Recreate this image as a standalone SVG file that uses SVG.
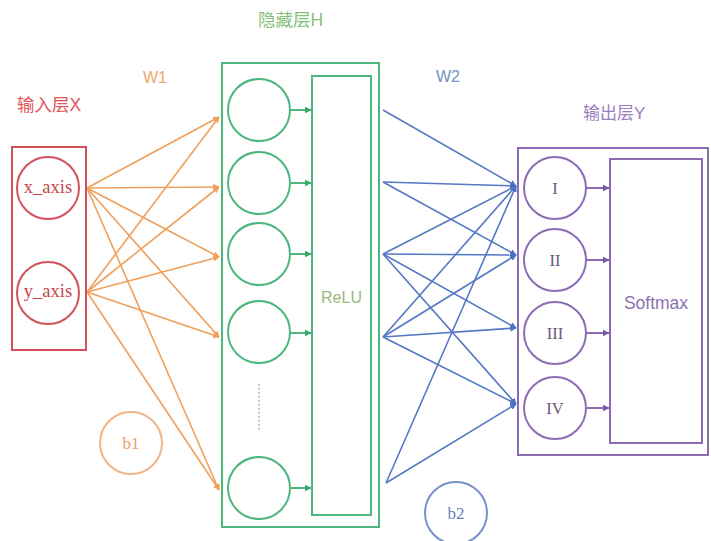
<svg xmlns="http://www.w3.org/2000/svg" width="711" height="541" viewBox="0 0 711 541">
  <style>
    .sans { font-family: "Liberation Sans", "Noto Sans CJK SC", sans-serif; }
    .serif { font-family: "Liberation Serif", "Noto Sans CJK SC", serif; }
    .red { fill: none; stroke: #d4505a; stroke-width: 2; }
    .green { fill: none; stroke: #4cb67c; stroke-width: 2; }
    .purple { fill: none; stroke: #8b6bb3; stroke-width: 2; }
    .w1 { stroke: #f0a05a; stroke-width: 1.6; fill: none; marker-end: url(#arrOrange); }
    .w2 { stroke: #5577c4; stroke-width: 1.6; fill: none; marker-end: url(#arrBlue); }
    .relu { stroke: #4cb67c; stroke-width: 2; fill: none; marker-end: url(#arrGreen); }
    .soft { stroke: #8b6bb3; stroke-width: 2; fill: none; marker-end: url(#arrPurple); }
  </style>
  <defs>
    <marker id="arrOrange" viewBox="0 0 10 10" refX="9" refY="5" markerWidth="4" markerHeight="4" orient="auto" markerUnits="strokeWidth">
      <path d="M0,0 L10,5 L0,10 z" fill="#f0a05a"/>
    </marker>
    <marker id="arrBlue" viewBox="0 0 10 10" refX="9" refY="5" markerWidth="4" markerHeight="4" orient="auto" markerUnits="strokeWidth">
      <path d="M0,0 L10,5 L0,10 z" fill="#4d6fc4"/>
    </marker>
    <marker id="arrGreen" viewBox="0 0 10 10" refX="9" refY="5" markerWidth="3.5" markerHeight="3.5" orient="auto" markerUnits="strokeWidth">
      <path d="M0,0 L10,5 L0,10 z" fill="#3aa86c"/>
    </marker>
    <marker id="arrPurple" viewBox="0 0 10 10" refX="9" refY="5" markerWidth="3.5" markerHeight="3.5" orient="auto" markerUnits="strokeWidth">
      <path d="M0,0 L10,5 L0,10 z" fill="#7b5aa8"/>
    </marker>
  </defs>

  <rect width="711" height="541" fill="#ffffff"/>

  <!-- layer titles and weight labels -->
  <text class="sans" x="17" y="111" font-size="17.5" fill="#e0565b">输入层X</text>
  <text class="sans" x="143" y="83" font-size="16" fill="#f0a868">W1</text>
  <text class="sans" x="258" y="26" font-size="17.5" fill="#86c07a">隐藏层H</text>
  <text class="sans" x="436" y="82" font-size="16" fill="#7090c0">W2</text>
  <text class="sans" x="583" y="119" font-size="17" fill="#9a7fc0">输出层Y</text>

  <!-- connectors -->
  <g id="connectors">
    <!-- input -> hidden (W1) -->
    <line class="w1" x1="87" y1="188" x2="219" y2="117"/>
    <line class="w1" x1="87" y1="188" x2="219" y2="187"/>
    <line class="w1" x1="87" y1="188" x2="219" y2="257"/>
    <line class="w1" x1="87" y1="188" x2="219" y2="337"/>
    <line class="w1" x1="87" y1="188" x2="219" y2="490"/>
    <line class="w1" x1="87" y1="292" x2="219" y2="117"/>
    <line class="w1" x1="87" y1="292" x2="219" y2="187"/>
    <line class="w1" x1="87" y1="292" x2="219" y2="257"/>
    <line class="w1" x1="87" y1="292" x2="219" y2="337"/>
    <line class="w1" x1="87" y1="292" x2="219" y2="490"/>
    <!-- hidden -> output (W2) -->
    <line class="w2" x1="383" y1="110" x2="516" y2="186"/>
    <line class="w2" x1="383" y1="182" x2="516" y2="186"/>
    <line class="w2" x1="383" y1="182" x2="516" y2="255"/>
    <line class="w2" x1="383" y1="254" x2="516" y2="186"/>
    <line class="w2" x1="383" y1="254" x2="516" y2="255"/>
    <line class="w2" x1="383" y1="254" x2="516" y2="328"/>
    <line class="w2" x1="383" y1="254" x2="516" y2="404"/>
    <line class="w2" x1="383" y1="337" x2="516" y2="186"/>
    <line class="w2" x1="383" y1="337" x2="516" y2="255"/>
    <line class="w2" x1="383" y1="337" x2="516" y2="328"/>
    <line class="w2" x1="383" y1="337" x2="516" y2="404"/>
    <line class="w2" x1="386" y1="483" x2="516" y2="186"/>
    <line class="w2" x1="386" y1="483" x2="516" y2="404"/>
    <!-- hidden units -> ReLU -->
    <line class="relu" x1="290" y1="110" x2="311" y2="110"/>
    <line class="relu" x1="290" y1="183" x2="311" y2="183"/>
    <line class="relu" x1="290" y1="254" x2="311" y2="254"/>
    <line class="relu" x1="290" y1="333" x2="311" y2="333"/>
    <line class="relu" x1="290" y1="488" x2="311" y2="488"/>
    <!-- output units -> Softmax -->
    <line class="soft" x1="586" y1="188" x2="609" y2="188"/>
    <line class="soft" x1="586" y1="260" x2="609" y2="260"/>
    <line class="soft" x1="586" y1="333" x2="609" y2="333"/>
    <line class="soft" x1="586" y1="408" x2="609" y2="408"/>
  </g>

  <!-- input layer -->
  <g id="input-layer">
    <rect class="red" x="12" y="147" width="74" height="203"/>
  </g>
  <g id="x_axis">
    <circle class="red" cx="48" cy="188" r="31"/>
    <text class="serif" x="48" y="193" font-size="18.5" fill="#c8464e" text-anchor="middle">x_axis</text>
  </g>
  <g id="y_axis">
    <circle class="red" cx="48" cy="293" r="31"/>
    <text class="serif" x="48" y="297" font-size="18.5" fill="#c8464e" text-anchor="middle">y_axis</text>
  </g>

  <!-- hidden layer -->
  <g id="hidden-layer">
    <rect class="green" x="222" y="63" width="157" height="464"/>
  </g>
  <g id="h1"><circle class="green" cx="259" cy="110" r="31"/></g>
  <g id="h2"><circle class="green" cx="259" cy="183" r="31"/></g>
  <g id="h3"><circle class="green" cx="259" cy="254" r="31"/></g>
  <g id="h4"><circle class="green" cx="259" cy="332" r="31"/></g>
  <g id="h-ellipsis">
    <line x1="259" y1="384" x2="259" y2="432" stroke="#a8a8a8" stroke-width="1.5" stroke-dasharray="1.5 2.5"/>
  </g>
  <g id="h5"><circle class="green" cx="259" cy="488" r="31"/></g>
  <g id="relu">
    <rect class="green" x="312" y="76" width="59" height="439"/>
    <text class="sans" x="341.5" y="303" font-size="16" fill="#9bb87a" text-anchor="middle">ReLU</text>
  </g>

  <!-- output layer -->
  <g id="output-layer">
    <rect class="purple" x="518" y="148" width="190" height="307"/>
  </g>
  <g id="y1">
    <circle class="purple" cx="555" cy="188" r="31"/>
    <text class="serif" x="555" y="194" font-size="16.5" fill="#6c5a80" text-anchor="middle">I</text>
  </g>
  <g id="y2">
    <circle class="purple" cx="555" cy="260" r="31"/>
    <text class="serif" x="555" y="266" font-size="16.5" fill="#6c5a80" text-anchor="middle">II</text>
  </g>
  <g id="y3">
    <circle class="purple" cx="555" cy="333" r="31"/>
    <text class="serif" x="555" y="339" font-size="16.5" fill="#6c5a80" text-anchor="middle">III</text>
  </g>
  <g id="y4">
    <circle class="purple" cx="555" cy="408" r="31"/>
    <text class="serif" x="555" y="414" font-size="16.5" fill="#6c5a80" text-anchor="middle">IV</text>
  </g>
  <g id="softmax">
    <rect class="purple" x="610" y="159" width="92" height="284"/>
    <text class="sans" x="656" y="309" font-size="17.5" fill="#8a72b0" text-anchor="middle">Softmax</text>
  </g>

  <!-- biases -->
  <g id="b1">
    <circle cx="131" cy="443" r="31" fill="none" stroke="#f0b487" stroke-width="2"/>
    <text class="serif" x="131" y="449" font-size="17" fill="#e8a070" text-anchor="middle">b1</text>
  </g>
  <g id="b2">
    <circle cx="456" cy="513" r="31" fill="none" stroke="#7a90c8" stroke-width="2"/>
    <text class="serif" x="456" y="519" font-size="17" fill="#6a80b8" text-anchor="middle">b2</text>
  </g>
</svg>
